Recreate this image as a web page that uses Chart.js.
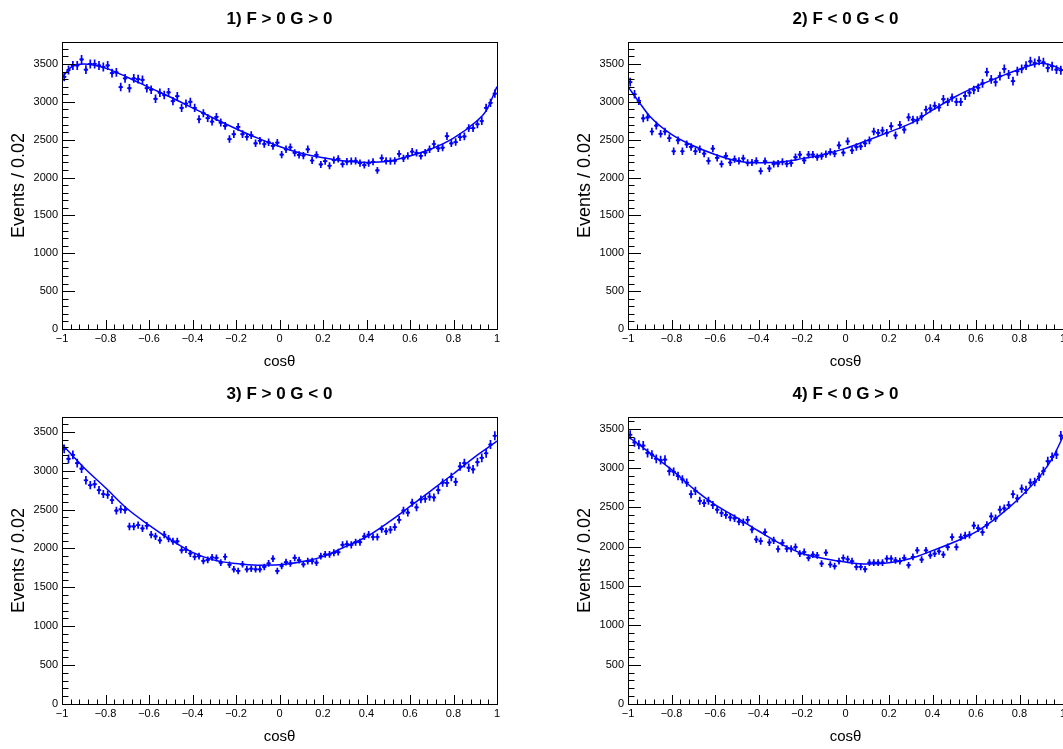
<!DOCTYPE html>
<html>
<head>
<meta charset="utf-8">
<title>cos theta fits</title>
<script src="https://cdn.jsdelivr.net/npm/chart.js@4.4.1/dist/chart.umd.min.js"></script>
<style>
body { margin: 0; background: #fff; overflow: hidden; }
#page { position: relative; width: 1063px; height: 749px; overflow: hidden; background: #fff; }
.pad { position: absolute; }
</style>
</head>
<body>
<div id="page">
  <canvas id="pad1" class="pad" width="531" height="374" style="left:0px;top:0px"></canvas>
  <canvas id="pad2" class="pad" width="531" height="374" style="left:566px;top:0px"></canvas>
  <canvas id="pad3" class="pad" width="531" height="374" style="left:0px;top:375px"></canvas>
  <canvas id="pad4" class="pad" width="531" height="374" style="left:566px;top:375px"></canvas>
</div>
<script>
// 100 bins of width 0.02 on [-1, 1]
var binCenters = [];
for (var i = 0; i < 100; i++) binCenters.push(-0.99 + 0.02 * i);

var xTicks = [-1, -0.8, -0.6, -0.4, -0.2, 0, 0.2, 0.4, 0.6, 0.8, 1];
var yTicks = [0, 500, 1000, 1500, 2000, 2500, 3000, 3500];

var titles = ['1) F > 0 G > 0', '2) F < 0 G < 0', '3) F > 0 G < 0', '4) F < 0 G > 0'];
var yMax = [3790, 3790, 3690, 3650];

// events per bin
var counts1 = [
  3330, 3420, 3480, 3480, 3560, 3425, 3500, 3500, 3480, 3460,
  3480, 3380, 3390, 3195, 3310, 3180, 3310, 3300, 3290, 3180,
  3160, 3040, 3120, 3090, 3125, 3010, 3075, 2920, 2975, 3000,
  2920, 2770, 2850, 2785, 2739, 2800, 2726, 2682, 2508, 2573,
  2669, 2573, 2539, 2560, 2452, 2486, 2443, 2465, 2417, 2460,
  2304, 2373, 2400, 2326, 2300, 2291, 2373, 2225, 2300, 2173,
  2217, 2156, 2230, 2247, 2178, 2210, 2217, 2221, 2191, 2165,
  2191, 2208, 2095, 2256, 2221, 2217, 2221, 2312, 2252, 2286,
  2343, 2326, 2286, 2330, 2373, 2443, 2386, 2395, 2547, 2452,
  2469, 2534, 2543, 2652, 2652, 2704, 2747, 2921, 2987, 3108
];
var counts2 = [
  3261, 3100, 3013, 2782, 2795, 2608, 2687, 2578, 2608, 2521,
  2347, 2491, 2347, 2439, 2404, 2347, 2373, 2317, 2221, 2382,
  2260, 2178, 2286, 2199, 2243, 2221, 2252, 2195, 2199, 2221,
  2086, 2217, 2120, 2180, 2184, 2208, 2182, 2191, 2269, 2304,
  2226, 2304, 2304, 2269, 2282, 2308, 2339, 2317, 2426, 2330,
  2478, 2360, 2404, 2412, 2452, 2491, 2608, 2591, 2621, 2591,
  2678, 2556, 2695, 2634, 2795, 2765, 2758, 2808, 2895, 2913,
  2948, 2926, 3035, 3000, 3056, 3000, 3000, 3078, 3122, 3156,
  3187, 3243, 3391, 3296, 3261, 3339, 3435, 3361, 3274, 3404,
  3435, 3478, 3535, 3513, 3543, 3522, 3448, 3470, 3426, 3417
];
var counts3 = [
  3280, 3152, 3203, 3097, 3025, 2877, 2813, 2826, 2750, 2699,
  2690, 2622, 2487, 2504, 2495, 2283, 2283, 2300, 2258, 2292,
  2177, 2156, 2105, 2177, 2126, 2092, 2092, 1978, 1986, 1935,
  1893, 1901, 1840, 1853, 1885, 1880, 1817, 1893, 1791, 1732,
  1711, 1796, 1732, 1740, 1732, 1732, 1762, 1808, 1868, 1711,
  1774, 1825, 1808, 1880, 1851, 1796, 1838, 1838, 1817, 1902,
  1923, 1923, 1944, 1952, 2046, 2056, 2046, 2080, 2080, 2156,
  2177, 2147, 2147, 2249, 2220, 2241, 2275, 2368, 2487, 2461,
  2588, 2529, 2631, 2639, 2665, 2656, 2750, 2847, 2843, 2919,
  2856, 3055, 3097, 3038, 3017, 3110, 3165, 3224, 3335, 3449
];
var counts4 = [
  3424, 3328, 3298, 3286, 3193, 3172, 3118, 3101, 3109, 2962,
  2954, 2899, 2857, 2815, 2668, 2710, 2584, 2555, 2584, 2530,
  2471, 2429, 2404, 2374, 2362, 2320, 2311, 2341, 2219, 2093,
  2072, 2185, 2055, 2080, 1971, 2051, 1975, 1975, 1996, 1912,
  1933, 1858, 1900, 1891, 1786, 1925, 1774, 1753, 1816, 1858,
  1841, 1816, 1744, 1744, 1715, 1799, 1799, 1799, 1799, 1849,
  1849, 1828, 1816, 1858, 1765, 1870, 1954, 1837, 1954, 1891,
  1912, 1942, 1900, 1996, 2122, 1996, 2122, 2143, 2152, 2269,
  2236, 2185, 2278, 2387, 2362, 2471, 2488, 2530, 2668, 2614,
  2740, 2723, 2815, 2824, 2891, 2962, 3088, 3143, 3172, 3412
];

// fitted curves, sampled at fitX
var fitX = [-1, -0.95, -0.9, -0.8, -0.7, -0.6, -0.5, -0.4, -0.3, -0.2, -0.1, 0,
            0.1, 0.2, 0.3, 0.4, 0.5, 0.6, 0.7, 0.8, 0.9, 0.95, 1];
var fit1 = [3320, 3475, 3500, 3445, 3325, 3190, 3060, 2920, 2780, 2645, 2520, 2410,
            2320, 2260, 2217, 2200, 2215, 2285, 2380, 2520, 2730, 2880, 3200];
var fit2 = [3200, 3000, 2810, 2570, 2420, 2305, 2220, 2195, 2205, 2250, 2305, 2385,
            2490, 2600, 2715, 2890, 3060, 3200, 3320, 3430, 3510, 3480, 3420];
var fit3 = [3340, 3190, 3040, 2780, 2510, 2300, 2110, 1950, 1850, 1805, 1785, 1790,
            1828, 1895, 2020, 2150, 2335, 2540, 2750, 2960, 3180, 3280, 3380];
var fit4 = [3400, 3300, 3193, 2980, 2740, 2535, 2370, 2200, 2040, 1915, 1850, 1805,
            1780, 1795, 1850, 1950, 2060, 2190, 2380, 2620, 2920, 3120, 3400];

var BLUE = '#0000ff';
Chart.defaults.font.family = "'Liberation Sans', Arial, sans-serif";
Chart.defaults.color = '#000';

function minusSign(v) {
    return v < 0 ? '\u2212' + Math.abs(v) : String(v);
}

// error bars, frame and inward ticks like a ROOT pad
var rootPad = {
    id: 'rootPad',
    afterDatasetsDraw: function(chart) {
        var ctx = chart.ctx;
        var xs = chart.scales.x, ys = chart.scales.y;
        ctx.save();
        ctx.strokeStyle = BLUE;
        ctx.lineWidth = 1.7;
        chart.data.datasets[0].data.forEach(function(p) {
            var err = Math.sqrt(p.y);
            var px = xs.getPixelForValue(p.x), py = ys.getPixelForValue(p.y);
            ctx.beginPath();
            ctx.moveTo(px, ys.getPixelForValue(p.y - err));
            ctx.lineTo(px, ys.getPixelForValue(p.y + err));
            ctx.moveTo(xs.getPixelForValue(p.x - 0.01), py);
            ctx.lineTo(xs.getPixelForValue(p.x + 0.01), py);
            ctx.stroke();
        });
        ctx.restore();
    },
    afterDraw: function(chart) {
        var ctx = chart.ctx, a = chart.chartArea;
        var xs = chart.scales.x, ys = chart.scales.y;
        ctx.save();
        ctx.strokeStyle = '#000';
        ctx.lineWidth = 1;
        ctx.strokeRect(a.left + 0.5, a.top + 0.5, a.right - a.left, a.bottom - a.top);
        ctx.beginPath();
        // x axis: major every 0.2, minor every 0.04
        for (var k = 0; k <= 50; k++) {
            var v = -1 + k * 0.04;
            var px = Math.round(xs.getPixelForValue(v)) + 0.5;
            var len = (k % 5 === 0) ? 9 : 4.5;
            ctx.moveTo(px, a.bottom);
            ctx.lineTo(px, a.bottom - len);
        }
        // y axis: major every 500, minor every 100
        for (var m = 0; m * 100 <= ys.max; m++) {
            var py = Math.round(ys.getPixelForValue(m * 100)) + 0.5;
            var ylen = (m % 5 === 0) ? 13 : 6.5;
            ctx.moveTo(a.left, py);
            ctx.lineTo(a.left + ylen, py);
        }
        ctx.stroke();
        ctx.restore();
    }
};

function drawPad(id, n, counts, fit) {
    var points = binCenters.map(function(x, i) { return {x: x, y: counts[i]}; });
    var curve = fitX.map(function(x, i) { return {x: x, y: fit[i]}; });

    new Chart(document.getElementById(id), {
        type: 'scatter',
        data: {
            datasets: [{
                data: points,
                pointRadius: 1.5,
                pointBackgroundColor: BLUE,
                pointBorderWidth: 0,
                showLine: false
            }, {
                data: curve,
                showLine: true,
                borderColor: BLUE,
                borderWidth: 1.5,
                pointRadius: 0,
                cubicInterpolationMode: 'monotone',
                fill: false
            }]
        },
        options: {
            responsive: false,
            animation: false,
            layout: { padding: { left: 0, right: 34, top: 0, bottom: 0 } },
            plugins: {
                legend: { display: false },
                tooltip: { enabled: false },
                title: {
                    display: true,
                    text: titles[n],
                    fullSize: false,
                    font: { size: 17, weight: 'bold' },
                    padding: { top: 9, bottom: 12.6 }
                }
            },
            scales: {
                x: {
                    type: 'linear',
                    min: -1,
                    max: 1,
                    grid: { display: false, drawTicks: false },
                    border: { display: false },
                    afterBuildTicks: function(s) { s.ticks = xTicks.map(function(v) { return {value: v}; }); },
                    afterFit: function(s) { s.height = 45; },
                    ticks: { padding: 3, font: { size: 11 }, maxRotation: 0, autoSkip: false, callback: minusSign },
                    title: { display: true, text: 'cos\u03b8', font: { size: 15 }, padding: { top: 0, bottom: 3 } }
                },
                y: {
                    type: 'linear',
                    min: 0,
                    max: yMax[n],
                    grid: { display: false, drawTicks: false },
                    border: { display: false },
                    afterBuildTicks: function(s) { s.ticks = yTicks.map(function(v) { return {value: v}; }); },
                    afterFit: function(s) { s.width = 62; },
                    ticks: { padding: 4, font: { size: 11 }, autoSkip: false, callback: minusSign },
                    title: { display: true, text: 'Events / 0.02', font: { size: 18 }, padding: { top: 8, bottom: 0 } }
                }
            }
        },
        plugins: [rootPad]
    });
}

drawPad('pad1', 0, counts1, fit1);
drawPad('pad2', 1, counts2, fit2);
drawPad('pad3', 2, counts3, fit3);
drawPad('pad4', 3, counts4, fit4);
</script>
</body>
</html>
